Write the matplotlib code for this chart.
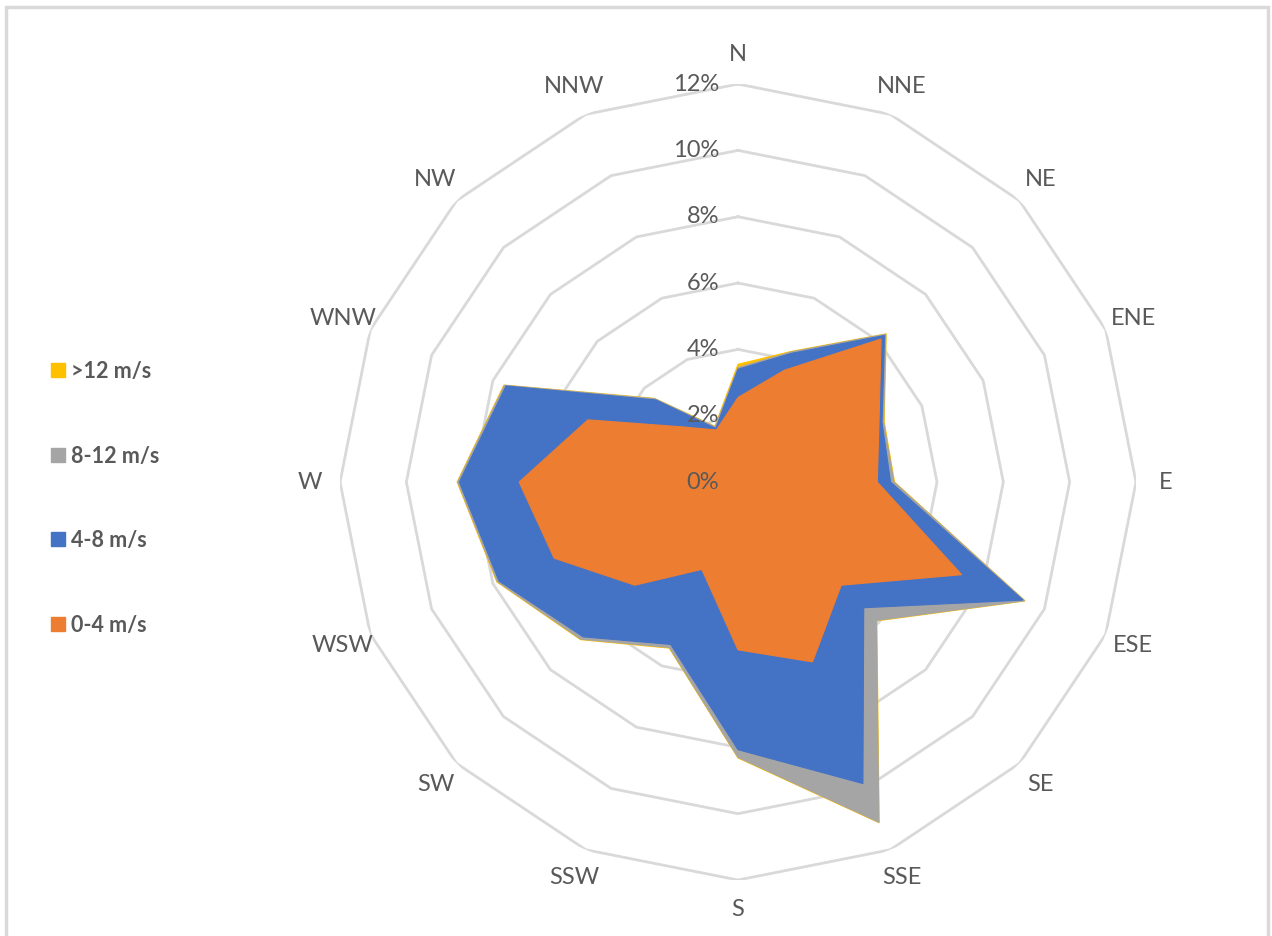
import numpy as np
import matplotlib.pyplot as plt
from matplotlib.lines import Line2D
from matplotlib.patches import Rectangle

directions = ['N', 'NNE', 'NE', 'ENE', 'E', 'ESE', 'SE', 'SSE',
              'S', 'SSW', 'SW', 'WSW', 'W', 'WNW', 'NW', 'NNW']

# plotted (stacked) frequencies in %
speed_0_4 = [2.55, 3.65, 6.1, 4.6, 4.2, 7.3, 4.4, 5.87, 5.06, 2.85, 4.4, 6.0, 6.6, 4.9, 2.35, 1.7]
speed_4_8 = [3.4, 4.2, 6.25, 4.7, 4.6, 9.3, 5.36, 9.84, 8.07, 5.3, 6.6, 7.8, 8.4, 7.57, 3.5, 1.75]
speed_8_12 = [3.45, 4.25, 6.3, 4.75, 4.7, 9.35, 5.9, 11.1, 8.3, 5.4, 6.7, 7.85, 8.45, 7.62, 3.55, 1.8]
speed_12 = [3.55, 4.27, 6.32, 4.77, 4.72, 9.37, 5.92, 11.12, 8.32, 5.42, 6.72, 7.87, 8.47, 7.64, 3.57, 1.82]

series = [('>12 m/s', speed_12, '#FFC000'),
          ('8-12 m/s', speed_8_12, '#A5A5A5'),
          ('4-8 m/s', speed_4_8, '#4472C4'),
          ('0-4 m/s', speed_0_4, '#ED7D31')]

rings = [0, 2, 4, 6, 8, 10, 12]
txt = '#595959'
plt.rcParams['font.family'] = ['Lato', 'DejaVu Sans']

fig = plt.figure(figsize=(12.72, 9.36), dpi=100)
ax = fig.add_axes([0.2673, 0.0598, 0.6258, 0.8504], projection='polar')
ax.set_theta_zero_location('N')
ax.set_theta_direction(-1)
ax.set_ylim(0, 12)
ax.grid(False)
ax.spines['polar'].set_visible(False)
ax.set_xticks([])
ax.set_yticks([])
ax.patch.set_visible(False)

theta = np.linspace(0, 2 * np.pi, len(directions), endpoint=False)
tc = np.append(theta, theta[0])

# polygon gridlines
for r in rings[1:]:
    ax.plot(tc, [r] * len(tc), color='#D9D9D9', lw=2, zorder=1)

# filled areas, largest first
for name, vals, col in series:
    v = np.append(vals, vals[0])
    ax.fill(tc, v, color=col, lw=0.8, ec=col, zorder=2)

# radial labels
for r in rings:
    ax.annotate(f'{r}%', xy=(0, r), xytext=(-19, 0), textcoords='offset pixels',
                ha='right', va='center', fontsize=17, color=txt, zorder=5)

# direction labels
for t, d in zip(theta, directions):
    ax.text(t, 12.9, d, ha='center', va='center', fontsize=17, color=txt)

# legend
handles = [Line2D([], [], ls='none', marker='s', ms=10, color=c) for _, _, c in series]
labels = [n for n, _, _ in series]
leg = fig.legend(handles, labels, loc='upper left', bbox_to_anchor=(0.025, 0.635),
                 frameon=False, handlelength=0.6, handletextpad=0.3,
                 labelspacing=2.95, prop={'weight': 'bold', 'size': 15.5})
for t in leg.get_texts():
    t.set_color(txt)

# outer chart border
fig.patches.append(Rectangle((6 / 1272, -0.05), 1262 / 1272, 1 - 7 / 936 + 0.05,
                             transform=fig.transFigure, fill=False,
                             ec='#D9D9D9', lw=2.5))

fig.savefig('out.png', dpi=100)
